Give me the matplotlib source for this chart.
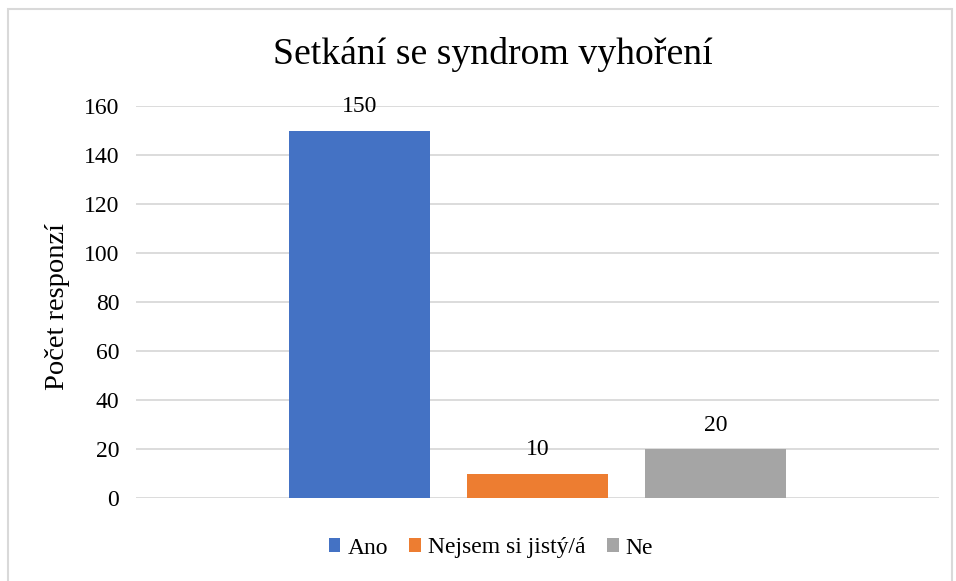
import matplotlib
matplotlib.use("Agg")
import matplotlib.pyplot as plt
from matplotlib.patches import Rectangle

# data
labels = ["Ano", "Nejsem si jistý/á", "Ne"]
values = [150, 10, 20]
colors = ["#4472C4", "#ED7D31", "#A5A5A5"]
yticks = [0, 20, 40, 60, 80, 100, 120, 140, 160]

plt.rcParams["font.family"] = ["Liberation Serif", "DejaVu Serif"]

fig = plt.figure(figsize=(9.56, 5.81), dpi=100)
ax = fig.add_axes([136 / 956, 1 - 498 / 581, 803 / 956, 392 / 581])

# chart border (Excel frame)
fig.add_artist(Rectangle((8 / 956, -0.05), 944 / 956, 1.05 - 9 / 581,
                         transform=fig.transFigure, fill=False,
                         edgecolor="#d9d9d9", linewidth=1.5))

step = 0.2217
width = 0.1756
for i, (lab, v, c) in enumerate(zip(labels, values, colors)):
    x = (i - 1) * step
    ax.bar(x, v, width=width, color=c, label=lab, zorder=3)
    ax.text(x, v + 5.5, str(v), ha="center", va="bottom", fontsize=17)

ax.set_xlim(-0.5, 0.5)
ax.set_ylim(0, 160)
ax.set_yticks(yticks)
ax.set_xticks([])
ax.tick_params(axis="y", length=0, labelsize=17, pad=12)
ax.grid(axis="y", color="#d9d9d9", linewidth=1.3, zorder=0)
for s in ax.spines.values():
    s.set_visible(False)

fig.text(57 / 956, 1 - 306 / 581, "Počet responzí", rotation=90,
         ha="center", va="center", fontsize=20.5)
fig.text(493 / 956, 1 - 55 / 581, "Setkání se syndrom vyhoření",
         ha="center", va="center", fontsize=27.2)

fig.legend(loc="center", bbox_to_anchor=(491 / 956, 1 - 548 / 581),
           ncol=3, frameon=False, fontsize=17, handlelength=0.5,
           handleheight=0.5, handletextpad=0.3, columnspacing=0.9)

fig.savefig("out.png", dpi=100)
